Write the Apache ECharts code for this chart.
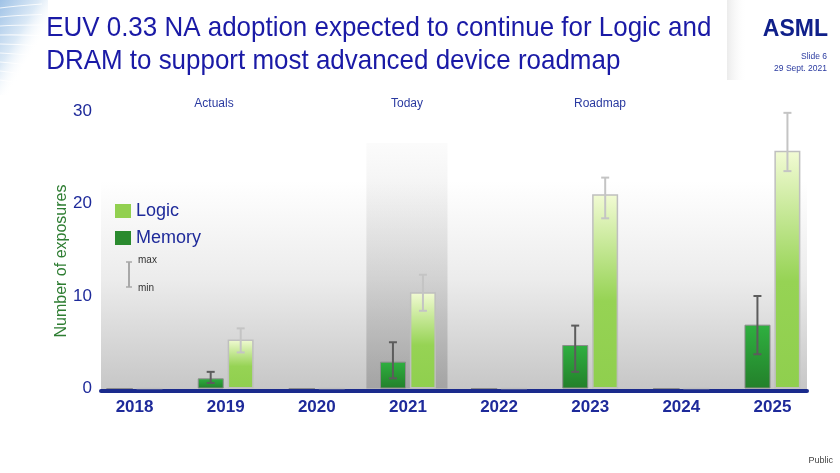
<!DOCTYPE html>
<html><head><meta charset="utf-8">
<script src="https://cdn.jsdelivr.net/npm/echarts@6/dist/echarts.min.js"></script>
<style>html,body{margin:0;padding:0;background:#fff}#c{width:840px;height:473px}</style>
</head><body><div id="c"></div>
<script>
// ---- data ----
const years = ['2018','2019','2020','2021','2022','2023','2024','2025'];
const memory    = [0, 1.1, 0, 2.9, 0, 4.7, 0, 6.9];
const memoryMin = [null, 0.6, null, 1.1, null, 1.8, null, 3.7];
const memoryMax = [null, 1.8, null, 5.0, null, 6.8, null, 10.0];
const logic     = [0, 5.3, 0, 10.4, 0, 21.0, 0, 25.7];
const logicMin  = [null, 3.9, null, 8.4, null, 18.4, null, 23.5];
const logicMax  = [null, 6.5, null, 12.3, null, 22.8, null, 29.8];
const yTicks = [0, 10, 20, 30];
const phases = ['Actuals', 'Today', 'Roadmap'];
const todayYear = '2021';
const titleLines = ['EUV 0.33 NA adoption expected to continue for Logic and', 'DRAM to support most advanced device roadmap'];

// ---- styles ----
const NAVY = '#1e2a9a';
const FONT = 'Liberation Sans, Arial, sans-serif';
const lg = (stops) => ({type:'linear', x:0, y:0, x2:0, y2:1, colorStops: stops.map(s => ({offset:s[0], color:s[1]}))});

function errBar(name, mins, maxs, offset, color) {
  const data = [];
  years.forEach((y, i) => { if (maxs[i] != null) data.push([i, mins[i], maxs[i]]); });
  return {
    name: name + ' range', type: 'custom', xAxisIndex: 0, yAxisIndex: 0, z: 6, silent: true,
    data: data,
    renderItem(params, api) {
      const i = api.value(0);
      const lo = api.coord([i, api.value(1)]);
      const hi = api.coord([i, api.value(2)]);
      const x = lo[0] + offset, cap = 4;
      const st = {stroke: color, lineWidth: 2};
      return {type: 'group', children: [
        {type: 'line', shape: {x1: x, y1: hi[1], x2: x, y2: lo[1]}, style: st},
        {type: 'line', shape: {x1: x - cap, y1: hi[1], x2: x + cap, y2: hi[1]}, style: st},
        {type: 'line', shape: {x1: x - cap, y1: lo[1], x2: x + cap, y2: lo[1]}, style: st}
      ]};
    }
  };
}

const chart = echarts.init(document.getElementById('c'));
const phaseX = [214, 407, 600];

const swooshLines = [];
for (let k = 0; k < 9; k++) {
  swooshLines.push({type: 'bezierCurve', z: -9, silent: true,
    shape: {x1: 0, y1: 8 + k * 9, cpx1: 15, cpy1: 6 + k * 9.5, x2: 42, y2: 4 + k * 10.5},
    style: {stroke: 'rgba(255,255,255,0.8)', lineWidth: 1.2, fill: null}});
}

chart.setOption({
  animation: false,
  backgroundColor: '#fff',
  textStyle: {fontFamily: FONT},
  legend: {
    data: [
      {name: 'Logic', itemStyle: {color: '#92d050', borderWidth: 0}},
      {name: 'Memory', itemStyle: {color: '#2a8a2e', borderWidth: 0}}
    ],
    orient: 'vertical', left: 110, top: 197, icon: 'rect', itemWidth: 16, itemHeight: 14, itemGap: 9,
    textStyle: {fontSize: 18, color: NAVY, fontFamily: FONT}, selectedMode: false
  },
  grid: [
    {left: 89, right: 22, top: 111, bottom: 84.5},
    {left: 101, right: 33, top: 111, bottom: 82.5, show: true, borderWidth: 0,
     backgroundColor: lg([[0, '#ffffff'], [0.25, '#ffffff'], [0.6, '#ececec'], [1, '#c6c6c6']])}
  ],
  xAxis: [
    {type: 'category', data: years, gridIndex: 0, axisLine: {show: false}, axisTick: {show: false},
     axisLabel: {fontSize: 17, fontWeight: 'bold', color: NAVY, margin: 10, fontFamily: FONT}},
    {type: 'value', gridIndex: 1, min: 0, max: 1, axisLine: {show: true, onZero: false, lineStyle: {color: '#1a2a8c', width: 4}},
     axisTick: {show: false}, axisLabel: {show: false}, splitLine: {show: false}}
  ],
  yAxis: [
    {type: 'value', gridIndex: 0, min: 0, max: 30, interval: 10, splitLine: {show: false},
     axisLine: {show: false}, axisTick: {show: false},
     axisLabel: {fontSize: 17, color: NAVY, margin: -3, fontFamily: FONT,
       formatter: v => (yTicks.indexOf(v) >= 0 ? String(v) : '')}},
    {type: 'value', gridIndex: 1, show: false, min: 0, max: 1}
  ],
  series: [
    {
      name: 'Today band', type: 'custom', xAxisIndex: 0, yAxisIndex: 0, z: 1, silent: true,
      data: [[years.indexOf(todayYear)]],
      renderItem(params, api) {
        const c = api.coord([api.value(0), 0]);
        const w = api.size([1, 0])[0] * 0.89;
        const top = params.coordSys.y + 32;
        return {type: 'rect', shape: {x: c[0] - w / 2 - 1, y: top, width: w, height: c[1] - top},
          style: {fill: lg([[0, 'rgba(190,190,190,0.06)'], [0.5, 'rgba(160,160,160,0.3)'], [1, 'rgba(140,140,140,0.6)']])}};
      }
    },
    {
      name: 'Memory', type: 'bar', data: memory, barWidth: 26, barGap: '15%', z: 3,
      itemStyle: {color: lg([[0, '#2fb040'], [1, '#23802a']]), borderColor: '#8c8c8c', borderWidth: 1}
    },
    {
      name: 'Logic', type: 'bar', data: logic, barWidth: 26, z: 3,
      itemStyle: {color: lg([[0, '#f2fbd4'], [0.55, '#96d354'], [1, '#8fcf4e']]), borderColor: '#bfbfbf', borderWidth: 1.5}
    },
    errBar('Memory', memoryMin, memoryMax, -15, '#5c5c5c'),
    errBar('Logic', logicMin, logicMax, 15, '#c4c4c4')
  ],
  graphic: [
    {type: 'rect', shape: {x: 0, y: 0, width: 48, height: 95}, silent: true, z: -10,
     style: {fill: {type: 'linear', x: 0, y: 0, x2: 1, y2: 0.3, colorStops: [{offset: 0, color: '#9fc2e6'}, {offset: 0.6, color: '#dbe9f6'}, {offset: 1, color: 'rgba(255,255,255,0)'}]}}},
    ...swooshLines,
    {type: 'rect', shape: {x: 727, y: 0, width: 20, height: 80}, silent: true, z: -10,
     style: {fill: {type: 'linear', x: 0, y: 0, x2: 1, y2: 0, colorStops: [{offset: 0, color: 'rgba(190,190,190,0.3)'}, {offset: 1, color: 'rgba(255,255,255,0)'}]}}},
    {type: 'text', x: 43, y: 12, scaleX: 0.927, scaleY: 1, originX: 43, originY: 12,
     style: {text: titleLines.join('\n'), fontSize: 28, lineHeight: 33, fill: '#1a1aa6', fontFamily: FONT}},
    {type: 'text', right: 12, top: 18, style: {text: 'ASML', fontSize: 23, fontWeight: 'bold', fill: '#10208a', fontFamily: FONT}},
    {type: 'text', x: 827, y: 57, style: {text: 'Slide 6', fontSize: 8.5, fill: '#2a3aa0', textAlign: 'right', textVerticalAlign: 'middle', fontFamily: FONT}},
    {type: 'text', x: 827, y: 69, style: {text: '29 Sept. 2021', fontSize: 8.5, fill: '#2a3aa0', textAlign: 'right', textVerticalAlign: 'middle', fontFamily: FONT}},
    {type: 'text', x: 833, y: 461, style: {text: 'Public', fontSize: 9, fill: '#444', textAlign: 'right', textVerticalAlign: 'middle', fontFamily: FONT}},
    ...phases.map((p, i) => ({type: 'text', x: phaseX[i], y: 104,
      style: {text: p, fontSize: 12, fill: '#2a3aa0', textAlign: 'center', textVerticalAlign: 'middle', fontFamily: FONT}})),
    {type: 'text', x: 62, y: 261, rotation: Math.PI / 2,
     style: {text: 'Number of exposures', fontSize: 16, fill: '#2e7d32', textAlign: 'center', textVerticalAlign: 'middle', fontFamily: FONT}},
    {type: 'group', silent: true, children: [
      {type: 'line', shape: {x1: 129, y1: 262, x2: 129, y2: 287}, style: {stroke: '#a8a8a8', lineWidth: 2}},
      {type: 'line', shape: {x1: 126, y1: 262, x2: 132, y2: 262}, style: {stroke: '#a8a8a8', lineWidth: 1.5}},
      {type: 'line', shape: {x1: 126, y1: 287, x2: 132, y2: 287}, style: {stroke: '#a8a8a8', lineWidth: 1.5}},
      {type: 'text', x: 138, y: 260, style: {text: 'max', fontSize: 10, fill: '#333', textVerticalAlign: 'middle', fontFamily: FONT}},
      {type: 'text', x: 138, y: 288, style: {text: 'min', fontSize: 10, fill: '#333', textVerticalAlign: 'middle', fontFamily: FONT}}
    ]}
  ]
});
</script>
</body></html>
